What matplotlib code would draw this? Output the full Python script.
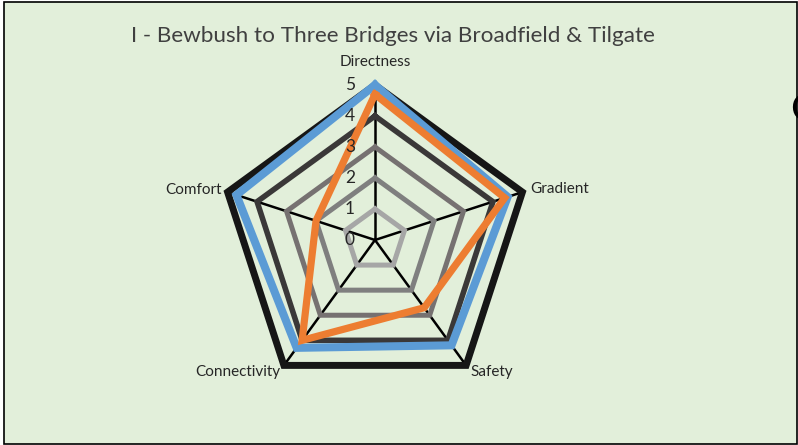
import numpy as np
import matplotlib.pyplot as plt
from matplotlib.patches import Rectangle

# categories and series
categories = ["Directness", "Gradient", "Safety", "Connectivity", "Comfort"]
target = [5, 4.5, 4.2, 4.3, 4.7]
route_i = [4.7, 4.4, 2.7, 4.0, 2.0]
ring_levels = [1, 2, 3, 4, 5]
ring_colors = ["#A6A6A6", "#7F7F7F", "#767171", "#3A3838", "#161616"]
ring_widths = [3.6, 3.6, 3.6, 4.0, 5.0]
tick_labels = ["0", "1", "2", "3", "4", "5"]

title = "I - Bewbush to Three Bridges via Broadfield & Tilgate"
font = "Lato"

fig = plt.figure(figsize=(7.98, 4.45), dpi=100)
fig.patch.set_facecolor("white")
fig.patches.append(Rectangle((4 / 798, 1 / 445), 793 / 798, 442 / 445, transform=fig.transFigure,
                             facecolor="#E2EFDA", edgecolor="black", linewidth=1.2, zorder=-10))

ax = fig.add_axes([220 / 798, 50 / 445, 310 / 798, 310 / 445], projection="polar")
ax.set_facecolor("none")
ax.set_theta_offset(np.pi / 2)
ax.set_theta_direction(-1)
ax.set_ylim(0, 5)
ax.grid(False)
ax.spines["polar"].set_visible(False)
ax.set_xticks([])
ax.set_yticks([])

angles = np.linspace(0, 2 * np.pi, len(categories), endpoint=False)
closed = np.append(angles, angles[0])

# spokes
for a in angles:
    ax.plot([a, a], [0, 5], color="black", linewidth=1.8, clip_on=False, zorder=2)

# rings at each level
for lvl, col, lw in zip(ring_levels, ring_colors, ring_widths):
    vals = [lvl] * (len(categories) + 1)
    ax.plot(closed, vals, color=col, linewidth=lw, clip_on=False, zorder=3,
            solid_joinstyle="miter")

ax.plot(closed, target + target[:1], color="#5B9BD5", linewidth=5.8, clip_on=False, zorder=4,
        solid_joinstyle="miter")
ax.plot(closed, route_i + route_i[:1], color="#ED7D31", linewidth=5.2, clip_on=False, zorder=5,
        solid_joinstyle="miter")

# value labels along the top spoke
for i, t in enumerate(tick_labels):
    ax.annotate(t, xy=(0, i), xytext=(-25, 0), textcoords="offset pixels", ha="center", va="center",
                fontsize=12.5, color="#262626", family=font, annotation_clip=False, zorder=10)

# category labels
offsets = [(0, 23, "center", "center"), (8, 3, "left", "center"), (4, -7, "left", "center"),
           (-4, -7, "right", "center"), (-6, 2, "right", "center")]
for a, name, (dx, dy, ha, va) in zip(angles, categories, offsets):
    ax.annotate(name, xy=(a, 5), xytext=(dx, dy), textcoords="offset pixels", ha=ha, va=va,
                fontsize=11, color="#262626", family=font, annotation_clip=False, zorder=10)

fig.text(393 / 798, 1 - 36 / 445, title, ha="center", va="center", fontsize=16.2, color="#404040", family=font)

# edge of a neighbouring chart's title
fig.text(790 / 798, 1 - 110 / 445, "C", ha="left", va="center", fontsize=28, color="black", family=font)

fig.savefig("out.png", dpi=100, facecolor=fig.get_facecolor())
